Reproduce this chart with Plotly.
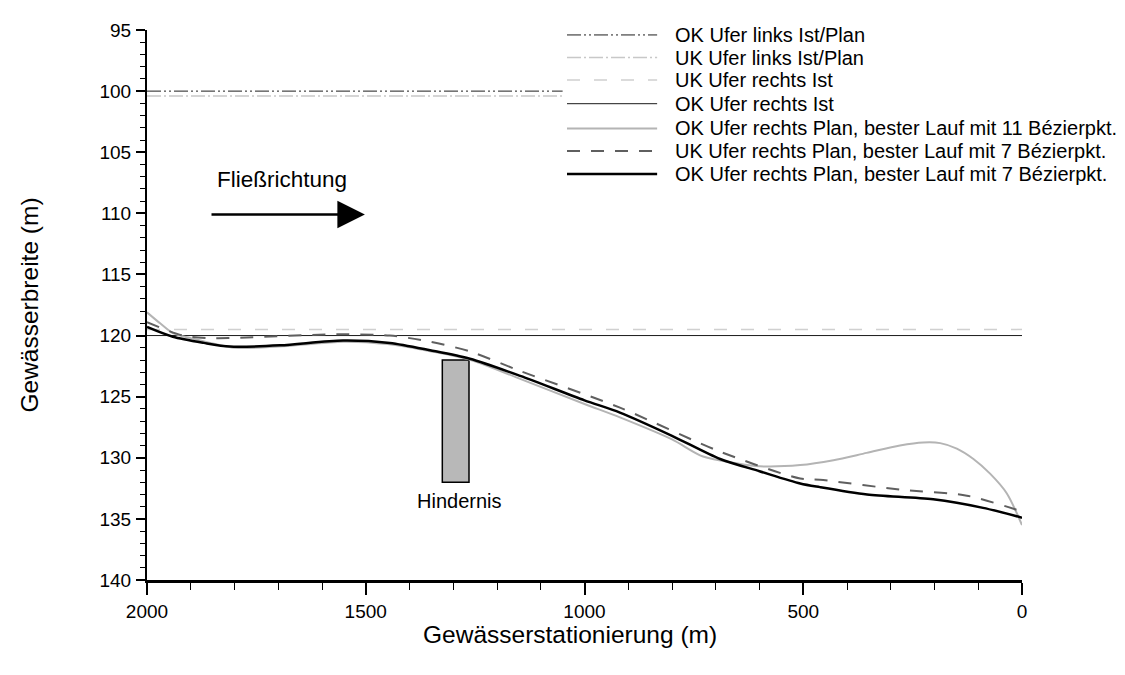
import plotly.graph_objects as go

# --- data ---------------------------------------------------------------
# straight bank lines (station range, width)
links_x = [2000, 1050]
ok_links_y = [100.0, 100.0]
uk_links_y = [100.4, 100.4]
rechts_x = [2000, 0]
uk_rechts_ist_y = [119.5, 119.5]
ok_rechts_ist_y = [120.0, 120.0]

# planned right bank, best run with 11 Bezier points (light grey)
plan11_x = [2000, 1970, 1941, 1902, 1800, 1700, 1550, 1450, 1350, 1260, 1150,
            1000, 919, 800, 729, 652, 599, 507, 431, 355, 279, 226, 187, 149,
            111, 73, 35, 0]
plan11_y = [118.1, 119.0, 119.8, 120.2, 121.0, 120.9, 120.5, 120.7, 121.3, 122.0, 123.5,
            125.6, 126.7, 128.5, 129.9, 130.45, 130.7, 130.6, 130.2, 129.6, 129.0, 128.75,
            128.8, 129.25, 130.1, 131.3, 132.9, 135.5]

# UK right bank plan, 7 Bezier points (dashed)
uk7_x = [2000, 1918, 1863, 1810, 1566, 1445, 1353, 1262, 1147, 919, 690, 507, 462,
         279, 126, 0]
uk7_y = [118.9, 120.0, 120.2, 120.2, 119.9, 120.0, 120.5, 121.3, 122.9, 125.9, 129.5,
         131.7, 131.8, 132.6, 133.1, 134.4]

# OK right bank plan, 7 Bezier points (black)
ok7_x = [2000, 1941, 1870, 1810, 1696, 1552, 1445, 1353, 1262, 1147, 1000, 919, 800,
         690, 600, 507, 462, 354, 203, 89, 0]
ok7_y = [119.3, 120.1, 120.6, 120.9, 120.8, 120.4, 120.6, 121.2, 121.9, 123.3, 125.3,
         126.3, 128.2, 130.1, 131.1, 132.1, 132.4, 133.0, 133.4, 134.1, 134.9]

# obstacle and flow arrow
hindernis_x = [1325, 1264]
hindernis_y = [122, 132]
arrow_x = [1856, 1502]
arrow_y = 110.1

legend_names = [
    "OK Ufer links Ist/Plan",
    "UK Ufer links Ist/Plan",
    "UK Ufer rechts Ist",
    "OK Ufer rechts Ist",
    "OK Ufer rechts Plan, bester Lauf mit 11 Bézierpkt.",
    "UK Ufer rechts Plan, bester Lauf mit 7 Bézierpkt.",
    "OK Ufer rechts Plan, bester Lauf mit 7 Bézierpkt.",
]

FONT = "Liberation Sans, Arial, sans-serif"

# line styles, same order as legend_names
styles = [
    dict(color="#1e1e1e", width=1, dash="14px,3px,2px,3px,2px,3px"),
    dict(color="#c8c8c8", width=1.5, dash="14px,3px,2px,3px"),
    dict(color="#d0d0d0", width=1.5, dash="13px,14px"),
    dict(color="#1a1a1a", width=1),
    dict(color="#b4b4b4", width=2),
    dict(color="#5f5f5f", width=2, dash="13px,11px"),
    dict(color="#000000", width=2.5),
]

series = [
    (links_x, ok_links_y, "linear"),
    (links_x, uk_links_y, "linear"),
    (rechts_x, uk_rechts_ist_y, "linear"),
    (rechts_x, ok_rechts_ist_y, "linear"),
    (plan11_x, plan11_y, "spline"),
    (uk7_x, uk7_y, "spline"),
    (ok7_x, ok7_y, "spline"),
]

fig = go.Figure()

# obstacle (drawn below the lines)
fig.add_shape(type="rect", x0=hindernis_x[0], x1=hindernis_x[1],
              y0=hindernis_y[0], y1=hindernis_y[1],
              fillcolor="#b8b8b8", line=dict(color="black", width=1.5), layer="below")

for (xs, ys, shape), name, st in zip(series, legend_names, styles):
    line = dict(shape=shape, **st)
    if shape == "spline":
        line["smoothing"] = 0.8
    fig.add_trace(go.Scatter(x=xs, y=ys, mode="lines", name=name, line=line,
                             showlegend=False, hoverinfo="skip"))

# hand-made legend so the line samples are as long as in the original
row_y = [0.991, 0.950, 0.909, 0.866, 0.821, 0.780, 0.738]
for name, st, ry in zip(legend_names, styles, row_y):
    fig.add_shape(type="line", xref="paper", yref="paper",
                  x0=0.48, x1=0.583, y0=ry, y1=ry, line=st)
    fig.add_annotation(xref="paper", yref="paper", x=0.601, y=ry, text=name,
                       showarrow=False, xanchor="left", yanchor="middle",
                       font=dict(family=FONT, size=20, color="black"))

# flow direction arrow
fig.add_annotation(x=arrow_x[1], y=arrow_y, ax=arrow_x[0], ay=arrow_y,
                   xref="x", yref="y", axref="x", ayref="y", text="",
                   showarrow=True, arrowhead=2, arrowsize=2.2, arrowwidth=2.5,
                   arrowcolor="black")
fig.add_annotation(x=1691, y=107.2, text="Fließrichtung", showarrow=False,
                   font=dict(family=FONT, size=22.5, color="black"))
fig.add_annotation(x=1287, y=133.5, text="Hindernis", showarrow=False,
                   font=dict(family=FONT, size=20, color="black"))

# x title sits a little left of the plot centre in the original
fig.add_annotation(xref="paper", yref="paper", x=0.4835, y=-0.0986,
                   text="Gewässerstationierung (m)", showarrow=False,
                   xanchor="center", yanchor="middle",
                   font=dict(family=FONT, size=24.5, color="black"))

fig.update_xaxes(range=[2000, 0], tickvals=[2000, 1500, 1000, 500, 0],
                 ticks="outside", ticklen=12, tickwidth=2, tickcolor="black",
                 minor=dict(dtick=100, ticks="outside", ticklen=7, tickwidth=1, tickcolor="black"),
                 showline=True, linewidth=3, linecolor="black", showgrid=False, zeroline=False,
                 tickfont=dict(family=FONT, size=19, color="black"))
fig.update_yaxes(range=[140, 95], tickvals=list(range(95, 141, 5)),
                 ticks="outside", ticklen=9, tickwidth=2, tickcolor="black",
                 minor=dict(dtick=1, ticks="outside", ticklen=5, tickwidth=1, tickcolor="black"),
                 showline=True, linewidth=2, linecolor="black", showgrid=False, zeroline=False,
                 tickfont=dict(family=FONT, size=19, color="black"), ticklabelstandoff=1,
                 title=dict(text="Gewässerbreite (m)", standoff=54,
                            font=dict(family=FONT, size=24.5, color="black")))

# the page body adds 8px, so the margins are shifted to keep the plot area in place
fig.update_layout(width=1125, height=675, plot_bgcolor="white", paper_bgcolor="white",
                  margin=dict(l=139, r=111, t=14, b=103), showlegend=False)

fig.write_html("out.html")
